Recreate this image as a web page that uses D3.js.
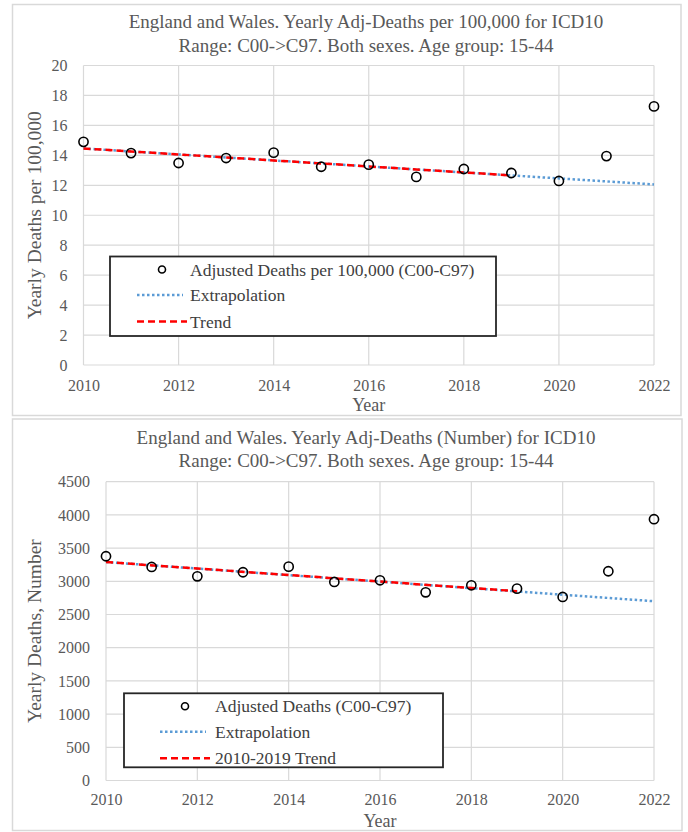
<!DOCTYPE html>
<html>
<head>
<meta charset="utf-8">
<script src="https://cdn.jsdelivr.net/npm/d3@7"></script>
<style>
  body { margin: 0; background: #fff; }
  svg { display: block; }
  text { font-family: "Liberation Serif", "DejaVu Serif", serif; }
</style>
</head>
<body>
<div id="chart"></div>
<script>
// data
var years = [2010, 2011, 2012, 2013, 2014, 2015, 2016, 2017, 2018, 2019, 2020, 2021, 2022];
var ratePer100k = [14.9, 14.15, 13.49, 13.82, 14.18, 13.24, 13.38, 12.56, 13.09, 12.82, 12.29, 13.95, 17.27];
var deathsNumber = [3377, 3216, 3075, 3136, 3221, 2990, 3015, 2834, 2940, 2889, 2764, 3151, 3935];

var trendYears = [2010, 2019];
var extrapYears = [2010, 2022];
var rateTrend = [14.46, 12.66];
var rateExtrap = [14.46, 12.06];
var numberTrend = [3290, 2850];
var numberExtrap = [3290, 2700];

var xTicks = [2010, 2012, 2014, 2016, 2018, 2020, 2022];
var rateTicks = [0, 2, 4, 6, 8, 10, 12, 14, 16, 18, 20];
var numberTicks = [0, 500, 1000, 1500, 2000, 2500, 3000, 3500, 4000, 4500];

var width = 688;
var height = 832;
var serif = "'Liberation Serif', 'DejaVu Serif', serif";

var svg = d3.select("#chart").append("svg")
  .attr("width", width)
  .attr("height", height);

var gridColor = "#d9d9d9";
var textColor = "#595959";
var blue = "#5b9bd5";
var red = "#ff0000";

function drawChart(cfg) {
  var g = svg.append("g");

  /* outer frame */
  g.append("rect")
    .attr("x", cfg.box[0]).attr("y", cfg.box[1])
    .attr("width", cfg.box[2] - cfg.box[0]).attr("height", cfg.box[3] - cfg.box[1])
    .attr("fill", "#fff").attr("stroke", gridColor).attr("stroke-width", 1.5);

  /* Scale */
  var x = d3.scaleLinear().domain([2010, 2022]).range([cfg.left, cfg.right]);
  var y = d3.scaleLinear().domain([0, cfg.yMax]).range([cfg.bottom, cfg.top]);

  /* grid */
  g.append("g").selectAll("line.h")
    .data(cfg.yTicks).enter().append("line")
    .attr("x1", cfg.left).attr("x2", cfg.right)
    .attr("y1", d => y(d)).attr("y2", d => y(d))
    .attr("stroke", gridColor).attr("stroke-width", 1.2);
  g.append("g").selectAll("line.v")
    .data(xTicks).enter().append("line")
    .attr("x1", d => x(d)).attr("x2", d => x(d))
    .attr("y1", cfg.top).attr("y2", cfg.bottom)
    .attr("stroke", gridColor).attr("stroke-width", 1.2);

  /* Axis */
  var yAxis = g.append("g")
    .attr("transform", `translate(${cfg.left}, 0)`)
    .call(d3.axisLeft(y).tickValues(cfg.yTicks).tickSize(0).tickPadding(cfg.yPad).tickFormat(d3.format("d")));
  var xAxis = g.append("g")
    .attr("transform", `translate(0, ${cfg.bottom})`)
    .call(d3.axisBottom(x).tickValues(xTicks).tickSize(0).tickPadding(cfg.xPad).tickFormat(d3.format("d")));
  [yAxis, xAxis].forEach(function (a) {
    a.attr("font-family", serif).attr("font-size", 16);
    a.select(".domain").remove();
    a.selectAll("text").attr("fill", textColor);
  });

  /* titles */
  g.append("text")
    .attr("x", 366).attr("y", cfg.titleY[0])
    .attr("text-anchor", "middle").attr("fill", textColor)
    .style("font-size", "19px")
    .text(cfg.title[0]);
  g.append("text")
    .attr("x", 366).attr("y", cfg.titleY[1])
    .attr("text-anchor", "middle").attr("fill", textColor)
    .style("font-size", "19px")
    .text(cfg.title[1]);
  g.append("text")
    .attr("x", (cfg.left + cfg.right) / 2).attr("y", cfg.xTitleY)
    .attr("text-anchor", "middle").attr("fill", textColor)
    .style("font-size", "18px")
    .text("Year");
  g.append("text")
    .attr("transform", `translate(41, ${(cfg.top + cfg.bottom) / 2}) rotate(-90)`)
    .attr("text-anchor", "middle").attr("fill", textColor)
    .style("font-size", "19.5px")
    .text(cfg.yTitle);

  /* lines */
  var extrap = cfg.extrap.map((v, i) => ({year: extrapYears[i], value: v}));
  var trend = cfg.trend.map((v, i) => ({year: trendYears[i], value: v}));
  var line = d3.line().x(d => x(d.year)).y(d => y(d.value));

  g.append("path")
    .attr("d", line(extrap))
    .attr("fill", "none").attr("stroke", blue)
    .attr("stroke-width", 2.5).attr("stroke-dasharray", "2.5,2.5");
  g.append("path")
    .attr("d", line(trend))
    .attr("fill", "none").attr("stroke", red)
    .attr("stroke-width", 2.5).attr("stroke-dasharray", "7,4");

  /* points */
  g.append("g").selectAll("circle")
    .data(years.map((yr, i) => ({year: yr, value: cfg.values[i]})))
    .enter().append("circle")
    .attr("cx", d => x(d.year))
    .attr("cy", d => y(d.value))
    .attr("r", 4.6)
    .attr("fill", "none").attr("stroke", "#000").attr("stroke-width", 1.6);

  /* legend */
  var L = cfg.legend;
  var lg = g.append("g");
  lg.append("rect")
    .attr("x", L.x).attr("y", L.y).attr("width", L.w).attr("height", L.h)
    .attr("fill", "#fff").attr("stroke", "#262626").attr("stroke-width", 1.8);
  var rows = [L.y + 13, L.y + 38.5, L.y + 65];
  lg.append("circle")
    .attr("cx", L.lineX0 + 25).attr("cy", rows[0])
    .attr("r", 3.5).attr("fill", "none").attr("stroke", "#000").attr("stroke-width", 1.6);
  lg.append("line")
    .attr("x1", L.lineX0).attr("x2", L.lineX0 + 46)
    .attr("y1", rows[1]).attr("y2", rows[1])
    .attr("stroke", blue).attr("stroke-width", 2.5).attr("stroke-dasharray", "2.5,2.5");
  lg.append("line")
    .attr("x1", L.lineX0).attr("x2", L.lineX0 + 50)
    .attr("y1", rows[2]).attr("y2", rows[2])
    .attr("stroke", red).attr("stroke-width", 2.5).attr("stroke-dasharray", "7,4");
  lg.selectAll("text.leg")
    .data(cfg.legendLabels).enter().append("text")
    .attr("x", L.textX)
    .attr("y", (d, i) => rows[i] + 6)
    .attr("fill", "#404040")
    .style("font-size", "17.5px")
    .text(d => d);
}

drawChart({
  box: [12.5, 4.5, 681, 415.5],
  left: 83.5, right: 654, top: 65.5, bottom: 365,
  yMax: 20, yTicks: rateTicks, yPad: 16, xPad: 14.5,
  values: ratePer100k, trend: rateTrend, extrap: rateExtrap,
  title: ["England and Wales. Yearly Adj-Deaths per 100,000 for ICD10",
          "Range: C00->C97. Both sexes. Age group: 15-44"],
  titleY: [28, 52],
  xTitleY: 411,
  yTitle: "Yearly Deaths per 100,000",
  legend: {x: 110, y: 256.5, w: 386, h: 79.5, lineX0: 137, textX: 190},
  legendLabels: ["Adjusted Deaths per 100,000 (C00-C97)", "Extrapolation", "Trend"]
});

drawChart({
  box: [12.5, 419, 682, 830.5],
  left: 106, right: 654, top: 481.7, bottom: 780.5,
  yMax: 4500, yTicks: numberTicks, yPad: 16, xPad: 13.5,
  values: deathsNumber, trend: numberTrend, extrap: numberExtrap,
  title: ["England and Wales. Yearly Adj-Deaths (Number) for ICD10",
          "Range: C00->C97. Both sexes. Age group: 15-44"],
  titleY: [444, 467],
  xTitleY: 827,
  yTitle: "Yearly Deaths, Number",
  legend: {x: 124, y: 693.3, w: 319, h: 74, lineX0: 160, textX: 215},
  legendLabels: ["Adjusted Deaths (C00-C97)", "Extrapolation", "2010-2019 Trend"]
});
</script>
</body>
</html>
